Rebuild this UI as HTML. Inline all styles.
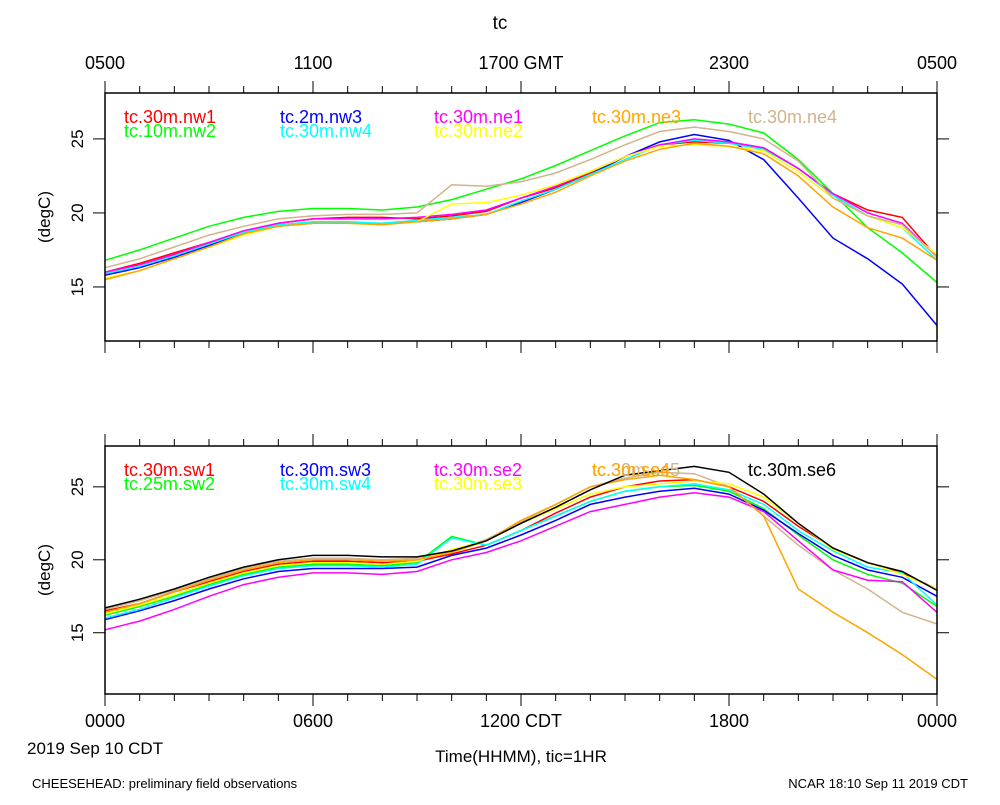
<!DOCTYPE html>
<html><head><meta charset="utf-8"><style>
html,body{margin:0;padding:0;background:#fff}
svg text{font-family:"Liberation Sans",sans-serif}
</style></head><body>
<svg id="c" width="1000" height="800" xmlns="http://www.w3.org/2000/svg">
<text x="500" y="29" font-size="19" text-anchor="middle">tc</text>
<text x="27" y="754" font-size="17">2019 Sep 10 CDT</text>
<text x="521" y="762" font-size="17" text-anchor="middle">Time(HHMM), tic=1HR</text>
<text x="32" y="788" font-size="13">CHEESEHEAD: preliminary field observations</text>
<text x="968" y="788" font-size="13" text-anchor="end">NCAR 18:10 Sep 11 2019 CDT</text>
</svg>
<script>
const hours=[0,1,2,3,4,5,6,7,8,9,10,11,12,13,14,15,16,17,18,19,20,21,22,23,24];
const topNames=["tc.30m.nw1","tc.10m.nw2","tc.2m.nw3","tc.30m.nw4","tc.30m.ne1","tc.30m.ne2","tc.30m.ne3","tc.30m.ne4"];
const nw1=[16.0,16.6,17.3,18.0,18.7,19.3,19.6,19.7,19.7,19.6,19.8,20.1,21.0,21.7,22.7,23.8,24.6,24.8,24.7,24.4,23.0,21.3,20.2,19.7,17.0];
const nw2=[16.8,17.5,18.3,19.1,19.7,20.1,20.3,20.3,20.2,20.4,20.9,21.6,22.3,23.2,24.2,25.2,26.1,26.3,26.0,25.4,23.6,21.3,19.0,17.3,15.3];
const nw3=[15.8,16.3,17.0,17.8,18.6,19.1,19.3,19.3,19.3,19.4,19.6,19.9,20.7,21.6,22.6,23.8,24.8,25.3,24.9,23.6,21.0,18.3,16.9,15.2,12.4];
const nw4=[15.9,16.4,17.1,17.9,18.7,19.2,19.4,19.4,19.3,19.5,19.7,19.9,20.8,21.6,22.6,23.6,24.6,24.9,24.7,24.3,23.0,21.2,19.8,19.0,16.8];
const ne1=[16.0,16.5,17.2,18.0,18.8,19.3,19.6,19.6,19.6,19.7,19.9,20.2,21.0,21.8,22.8,23.8,24.6,25.0,24.8,24.4,23.0,21.3,20.0,19.3,17.0];
const ne2=[15.6,16.1,16.9,17.7,18.5,19.1,19.3,19.3,19.2,19.4,20.6,20.7,21.2,21.9,22.8,23.8,24.5,24.6,24.5,24.2,22.8,21.0,19.8,19.0,17.2];
const ne3=[15.5,16.1,16.9,17.7,18.6,19.1,19.3,19.3,19.2,19.4,19.6,19.9,20.6,21.4,22.5,23.5,24.3,24.7,24.5,24.0,22.5,20.4,19.0,18.3,16.8];
const ne4=[16.3,16.9,17.7,18.5,19.1,19.6,19.8,19.9,19.9,20.0,21.9,21.8,22.1,22.7,23.6,24.6,25.5,25.8,25.5,25.0,23.5,21.0,19.8,19.2,17.0];
const botNames=["tc.30m.se5","tc.30m.sw1","tc.25m.sw2","tc.30m.sw3","tc.30m.sw4","tc.30m.se2","tc.30m.se3","tc.3m.se4","tc.30m.se6"];
const sw1=[16.5,17.0,17.8,18.5,19.2,19.7,19.9,19.9,19.8,19.9,20.4,21.0,22.0,23.2,24.3,25.0,25.4,25.5,25.0,24.0,22.3,20.8,19.8,19.1,18.0];
const sw2=[16.2,16.8,17.5,18.3,19.0,19.5,19.7,19.7,19.6,19.8,21.6,21.0,22.0,23.0,24.0,24.7,25.0,25.1,24.7,23.5,21.7,20.0,19.0,18.4,16.8];
const sw3=[15.9,16.5,17.2,18.0,18.7,19.2,19.4,19.4,19.4,19.5,20.3,20.8,21.7,22.7,23.8,24.3,24.7,24.9,24.5,23.4,21.8,20.3,19.3,18.8,17.5];
const sw4=[16.0,16.6,17.4,18.2,18.9,19.4,19.6,19.6,19.5,19.7,21.5,21.0,22.0,23.0,24.0,24.7,25.0,25.2,24.8,23.8,22.0,20.6,19.5,19.1,16.9];
const se2=[15.2,15.8,16.6,17.5,18.3,18.8,19.1,19.1,19.0,19.2,20.0,20.5,21.3,22.3,23.3,23.8,24.3,24.6,24.3,23.3,21.3,19.3,18.6,18.5,16.4];
const se3=[16.3,16.9,17.6,18.4,19.1,19.6,19.8,19.8,19.7,19.9,20.7,21.3,22.5,23.5,24.5,25.0,25.2,25.4,25.2,24.3,22.5,20.7,19.8,19.0,18.0];
const se4=[16.4,17.0,17.8,18.6,19.3,19.8,20.0,20.0,19.9,20.0,20.5,21.3,22.7,23.8,25.0,25.5,25.8,25.5,25.0,23.0,18.0,16.4,15.0,13.5,11.8];
const se5=[16.6,17.2,17.9,18.7,19.4,19.9,20.1,20.1,20.0,20.1,20.6,21.4,22.6,23.8,25.0,25.6,26.0,25.9,25.0,23.0,21.0,19.3,18.0,16.4,15.6];
const se6=[16.7,17.3,18.0,18.8,19.5,20.0,20.3,20.3,20.2,20.2,20.6,21.3,22.5,23.6,24.8,25.8,26.1,26.4,26.0,24.5,22.5,20.8,19.8,19.2,17.9];
const topTicks=["0500","1100","1700 GMT","2300","0500"];
const botTicks=["0000","0600","1200 CDT","1800","0000"];
const yTicks=[15,20,25];

const NS="http://www.w3.org/2000/svg";
const svg=document.getElementById('c');
function el(t,a,p){const e=document.createElementNS(NS,t);for(const k in a)e.setAttribute(k,a[k]);(p||svg).appendChild(e);return e;}
const X0=105,X1=937;
function xs(h){return X0+(X1-X0)*h/24;}

function panel(top,bot,vTop,vBot,series,colors,names,legendPos,pname){
  const g=el('g',{});
  
  
  const ys=v=>top+(vTop-v)/(vTop-vBot)*(bot-top);
  series.forEach((s,i)=>{
    const d=s.map((v,j)=>(j?'L':'M')+xs(hours[j]).toFixed(1)+','+ys(v).toFixed(1)).join('');
    const p=el('path',{d:d,fill:'none',stroke:colors[i],'stroke-width':1.5},g);
    
    
  });
  const fr=el('rect',{x:X0,y:top,width:X1-X0,height:bot-top,fill:'none',stroke:'#000','stroke-width':1.5},g);
  
  
  for(let h=0;h<=24;h++){
    const L=h%6==0?12:7;
    el('line',{x1:xs(h),x2:xs(h),y1:top,y2:top-L,stroke:'#000','stroke-width':1},g);
    el('line',{x1:xs(h),x2:xs(h),y1:bot,y2:bot+L,stroke:'#000','stroke-width':1},g);
  }
  yTicks.forEach(v=>{
    el('line',{x1:X0,x2:X0-12,y1:ys(v),y2:ys(v),stroke:'#000'},g);
    el('line',{x1:X1,x2:X1+12,y1:ys(v),y2:ys(v),stroke:'#000'},g);
    const t=el('text',{x:0,y:0,'font-size':17,'text-anchor':'middle',transform:`translate(83,${ys(v)}) rotate(-90)`},g);
    t.textContent=v;
    
    
  });
  const yt=el('text',{x:0,y:0,'font-size':17,'text-anchor':'middle',transform:`translate(50,${(top+bot)/2}) rotate(-90)`},g);
  yt.textContent='(degC)';
  
  
  names.forEach((n,i)=>{
    const t=el('text',{x:legendPos[i][0],y:legendPos[i][1],'font-size':18,fill:colors[i]},g);
    t.textContent=n;
    
    
  });
  return ys;
}
panel(93,341,28.1,11.35,[nw1,nw2,nw3,nw4,ne1,ne2,ne3,ne4],
 ['#ff0000','#00ff00','#0000ff','#00ffff','#ff00ff','#ffff00','#ffa500','#d2b48c'],topNames,
 [[124,123],[124,137],[280,123],[280,137],[434,123],[434,137],[592,123],[748,123]],'top-panel');
panel(446,694,27.8,10.8,[se5,sw1,sw2,sw3,sw4,se2,se3,se4,se6],
 ['#d2b48c','#ff0000','#00ff00','#0000ff','#00ffff','#ff00ff','#ffff00','#ffa500','#000000'],
 botNames,
 [[592,476],[124,476],[124,490],[280,476],[280,490],[434,476],[434,490],[592,476],[748,476]],'bottom-panel');
[0,6,12,18,24].forEach((h,i)=>{
  const t=el('text',{x:xs(h),y:69,'font-size':18,'text-anchor':'middle'});
  t.textContent=topTicks[i];
  
  
  const b=el('text',{x:xs(h),y:727,'font-size':18,'text-anchor':'middle'});
  b.textContent=botTicks[i];
  
  
});
</script>
</body></html>
